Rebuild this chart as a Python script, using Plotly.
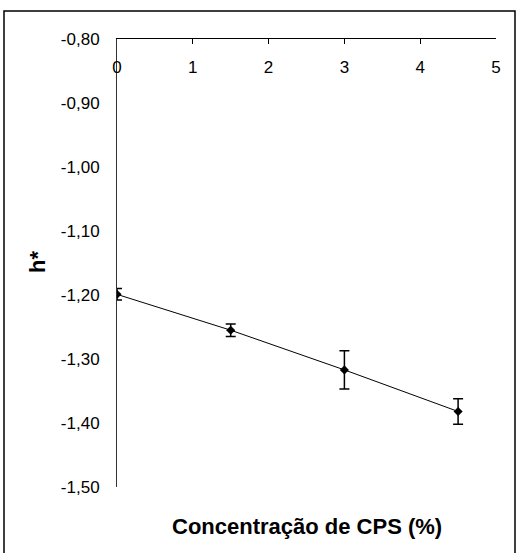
import plotly.graph_objects as go

# Data
conc = [0, 1.5, 3, 4.5]
h_star = [-1.199, -1.255, -1.317, -1.382]
h_err = [0.009, 0.0097, 0.03, 0.02]

x_ticks = [0, 1, 2, 3, 4, 5]
y_ticks = [-0.8, -0.9, -1.0, -1.1, -1.2, -1.3, -1.4, -1.5]
y_labels = ["-0,80", "-0,90", "-1,00", "-1,10", "-1,20", "-1,30", "-1,40", "-1,50"]

FONT = "Liberation Sans, Arial, sans-serif"

fig = go.Figure()
fig.add_trace(go.Scatter(
    x=conc, y=h_star, mode="lines+markers",
    line=dict(color="black", width=1),
    marker=dict(symbol="diamond", size=7, color="black"),
    error_y=dict(type="data", array=h_err, visible=True, color="black",
                 thickness=1.5, width=5),
    showlegend=False,
))

L, R, T, B = 117, 22, 39, 66
W, H = 518, 553
pw, ph = W - L - R, H - T - B

def px(x):
    return (x - L) / pw

def py(y):
    return (H - B - y) / ph

fig.update_layout(
    width=W, height=H,
    margin=dict(l=L, r=R, t=T, b=B),
    paper_bgcolor="white", plot_bgcolor="white",
    separators=", ",
    font=dict(family=FONT, size=17, color="black"),
    xaxis=dict(
        range=[0, 5], tickvals=x_ticks, side="top",
        showline=True, linecolor="black", linewidth=1,
        ticks="inside", ticklen=5, tickcolor="black", tickwidth=1,
        ticklabelposition="inside", ticklabeloverflow="allow",
        ticklabelstandoff=18,
        showgrid=False, zeroline=False,
        tickfont=dict(family=FONT, size=17, color="black"),
    ),
    yaxis=dict(
        range=[-1.5, -0.8], tickvals=y_ticks, ticktext=y_labels,
        showline=True, linecolor="#333333", linewidth=1,
        ticks="", ticklabelstandoff=13,
        showgrid=False, zeroline=False,
        tickfont=dict(family=FONT, size=17, color="black"),
    ),
    shapes=[dict(type="rect", xref="paper", yref="paper",
                 x0=px(4), x1=px(515), y0=py(556), y1=py(11),
                 line=dict(color="black", width=1.5))],
    annotations=[
        dict(text="<b>Concentração de CPS (%)</b>", xref="paper", yref="paper",
             x=px(307), y=py(526), xanchor="center", yanchor="middle",
             showarrow=False,
             font=dict(family=FONT, size=22, color="black")),
        dict(text="<b>h*</b>", xref="paper", yref="paper",
             x=px(37), y=py(262), xanchor="center", yanchor="middle",
             showarrow=False, textangle=-90,
             font=dict(family=FONT, size=22, color="black")),
    ],
)

fig.write_html("out.html")
